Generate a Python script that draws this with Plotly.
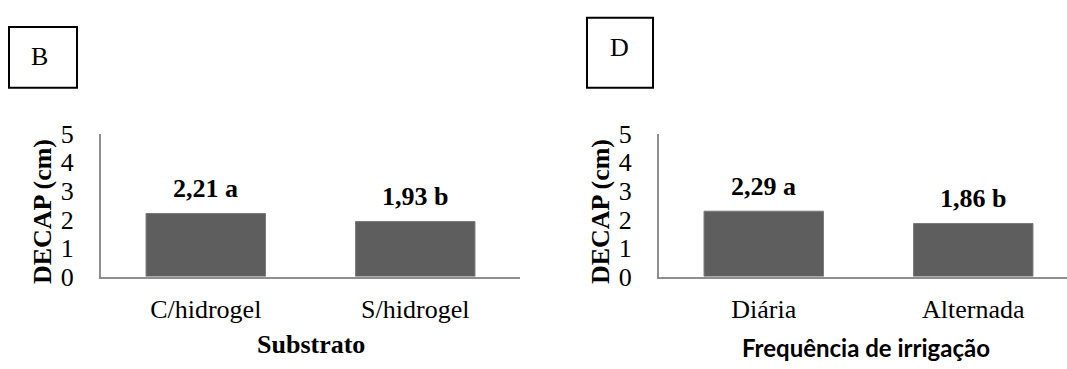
import plotly.graph_objects as go

# Panel B: stem diameter (DECAP) by substrate
substrato = ["C/hidrogel", "S/hidrogel"]
decap_substrato = [2.21, 1.93]
letras_substrato = ["a", "b"]

# Panel D: stem diameter (DECAP) by irrigation frequency
irrigacao = ["Diária", "Alternada"]
decap_irrigacao = [2.29, 1.86]
letras_irrigacao = ["a", "b"]

y_ticks = [0, 1, 2, 3, 4, 5]

W, H = 1067, 369
SERIF = "Liberation Serif"
BAR_COLOR = "#5e5e5e"
AXIS_COLOR = "#8f8f8f"


def px_x(x):
    return x / W


def px_y(y):
    return (H - y) / H


fig = go.Figure()

fig.add_trace(go.Bar(
    x=substrato, y=decap_substrato, width=0.57,
    marker=dict(color=BAR_COLOR, line=dict(color="#7a7a7a", width=1)),
    xaxis="x", yaxis="y", hoverinfo="skip",
))
fig.add_trace(go.Bar(
    x=irrigacao, y=decap_irrigacao, width=0.57,
    marker=dict(color=BAR_COLOR, line=dict(color="#7a7a7a", width=1)),
    xaxis="x2", yaxis="y2", hoverinfo="skip",
))

# value labels above the bars (decimal comma + Tukey letter)
annotations = []
for cats, vals, lets, xr, yr in [
    (substrato, decap_substrato, letras_substrato, "x", "y"),
    (irrigacao, decap_irrigacao, letras_irrigacao, "x2", "y2"),
]:
    for c, v, l in zip(cats, vals, lets):
        annotations.append(dict(
            x=c, y=v, xref=xr, yref=yr, yanchor="bottom", yshift=8,
            text=f"<b>{v:.2f}".replace(".", ",") + f" {l}</b>",
            showarrow=False, font=dict(family=SERIF, size=26, color="black"),
        ))

# y-axis titles
for cx in (42, 600):
    annotations.append(dict(
        x=px_x(cx), y=px_y(215), xref="paper", yref="paper",
        text="<b>DECAP (cm)</b>", textangle=-90, showarrow=False,
        xanchor="center", yanchor="middle",
        font=dict(family=SERIF, size=26, color="black"),
    ))

# x-axis titles
annotations.append(dict(
    x=px_x(310.5), y=px_y(359), xref="paper", yref="paper",
    text="<b>Substrato</b>", showarrow=False, xanchor="center", yanchor="middle",
    font=dict(family=SERIF, size=26, color="black"),
))
annotations.append(dict(
    x=px_x(866), y=px_y(362), xref="paper", yref="paper",
    text="<b>Frequência de irrigação</b>", showarrow=False,
    xanchor="center", yanchor="middle",
    font=dict(family="Lato", size=24, color="black"),
))

# panel letters
annotations.append(dict(
    x=px_x(39), y=px_y(46), xref="paper", yref="paper", text="B",
    showarrow=False, xanchor="center", yanchor="middle",
    font=dict(family=SERIF, size=26, color="black"),
))
annotations.append(dict(
    x=px_x(619), y=px_y(36), xref="paper", yref="paper", text="D",
    showarrow=False, xanchor="center", yanchor="middle",
    font=dict(family=SERIF, size=26, color="black"),
))

shapes = [
    dict(type="rect", xref="paper", yref="paper",
         x0=px_x(9), x1=px_x(77), y0=px_y(80), y1=px_y(14),
         line=dict(color="black", width=2)),
    dict(type="rect", xref="paper", yref="paper",
         x0=px_x(587), x1=px_x(653), y0=px_y(80), y1=px_y(4),
         line=dict(color="black", width=2)),
]

y_dom = [px_y(285), px_y(130)]
cat_px = (520 - 101) / 2.0  # pixels per category

xaxis_common = dict(
    showline=True, linecolor=AXIS_COLOR, linewidth=2, ticks="",
    showgrid=False, zeroline=False, fixedrange=True,
    tickfont=dict(family=SERIF, size=26, color="black"),
    ticklabelstandoff=8,
)
yaxis_common = dict(
    range=[0, 5], tickvals=y_ticks, showline=True, linecolor=AXIS_COLOR,
    linewidth=2, ticks="", showgrid=False, zeroline=False, fixedrange=True,
    tickfont=dict(family=SERIF, size=26, color="black"),
    ticklabelstandoff=20, domain=y_dom,
)

fig.update_layout(
    width=W, height=H, margin=dict(l=0, r=0, t=0, b=0),
    paper_bgcolor="white", plot_bgcolor="white", showlegend=False,
    xaxis=dict(domain=[px_x(101), px_x(520)], range=[-0.5, 1.5],
               anchor="y", **xaxis_common),
    yaxis=dict(anchor="x", **yaxis_common),
    xaxis2=dict(domain=[px_x(659), 1.0],
                range=[-0.5, -0.5 + (W - 659) / cat_px],
                anchor="y2", **xaxis_common),
    yaxis2=dict(anchor="x2", **yaxis_common),
    annotations=annotations, shapes=shapes,
)

fig.write_html("out.html")
